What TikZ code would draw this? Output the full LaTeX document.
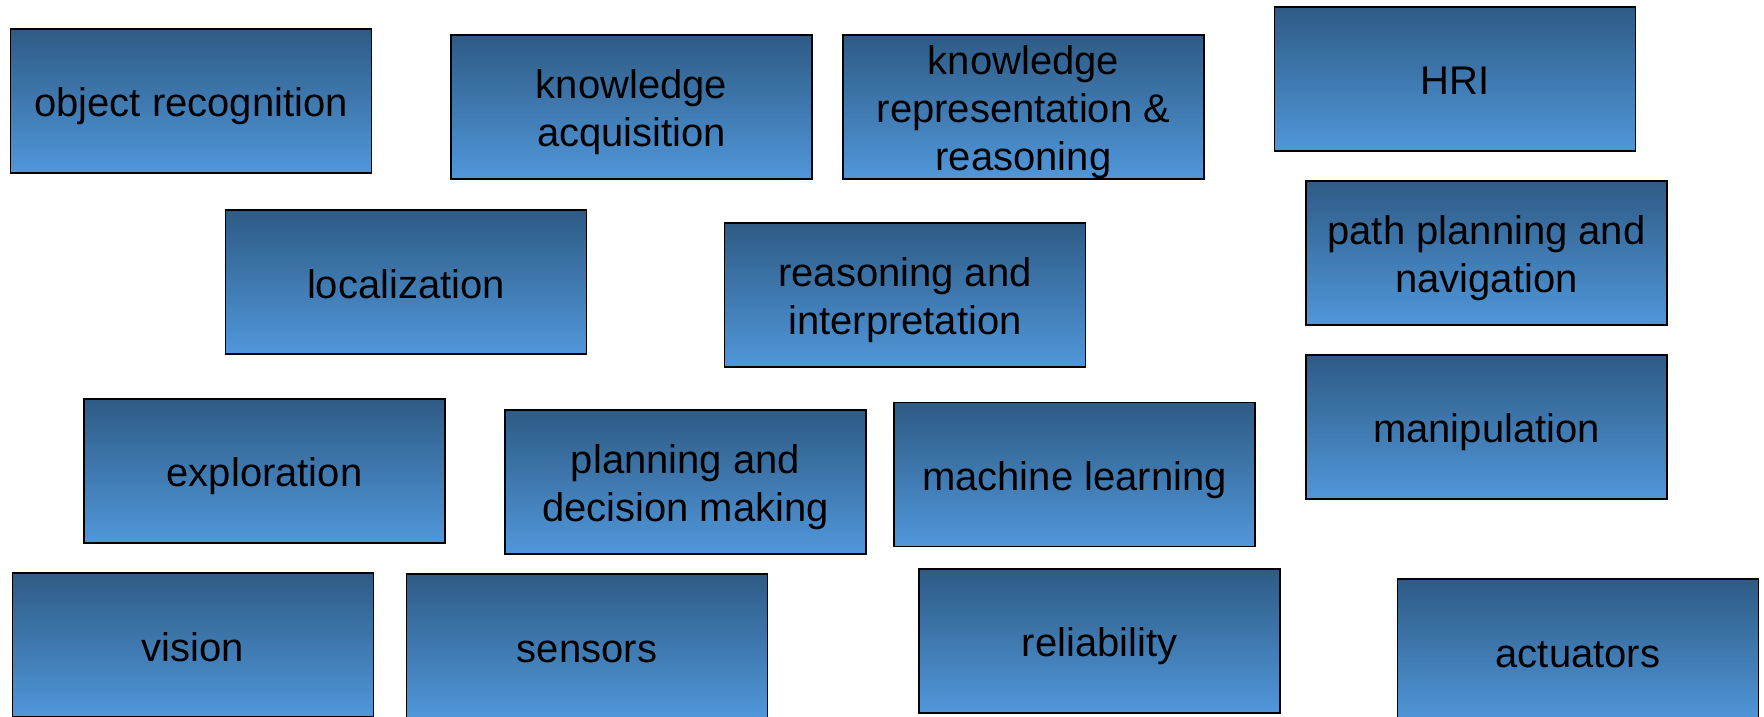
\documentclass[tikz,border=0pt]{standalone}
\usepackage{fontspec}
\setmainfont{Liberation Sans}
\definecolor{boxtop}{RGB}{46,91,133}
\definecolor{boxbottom}{RGB}{80,151,218}
% fixed ascent/descent struts so every label sits at the same baseline
\newcommand\ta{\rule{0pt}{40pt}}
\newcommand\td{\rule[-8pt]{0pt}{8pt}}
\begin{document}
\begin{tikzpicture}[x=1pt,y=-1pt,
  topic/.style={draw=black, line width=1.8pt, top color=boxtop, bottom color=boxbottom,
    minimum width=361pt, minimum height=144pt, inner sep=0pt, align=center,
    font=\fontsize{40}{48}\selectfont}]
\useasboundingbox (0,0) rectangle (1764,717);
\node[topic] (objrec)  at (191,101)    {\ta object recognition\td};
\node[topic] (knowacq) at (631.5,107)  {\ta knowledge\\acquisition\td};
\node[topic] (knowrep) at (1023.5,107) {\ta knowledge\\representation \&\\reasoning\td};
\node[topic] (hri)     at (1455,79)    {\ta HRI\td};
\node[topic] (path)    at (1486.5,253) {\ta path planning and\\navigation\td};
\node[topic] (loc)     at (406,282)    {\ta localization\td};
\node[topic] (reason)  at (905,295)    {\ta reasoning and\\interpretation\td};
\node[topic] (manip)   at (1486.5,427) {\ta manipulation\td};
\node[topic] (explore) at (264.5,471)  {\ta exploration\td};
\node[topic] (plan)    at (685.5,482)  {\ta planning and\\decision making\td};
\node[topic] (ml)      at (1074.5,474.5) {\ta machine learning\td};
\node[topic] (vision)  at (193,645)    {\ta vision\td};
\node[topic] (sensors) at (587,646)    {\ta sensors\td};
\node[topic] (reliab)  at (1099.5,641) {\ta reliability\td};
\node[topic] (act)     at (1578,651)   {\ta actuators\td};
\end{tikzpicture}
\end{document}
